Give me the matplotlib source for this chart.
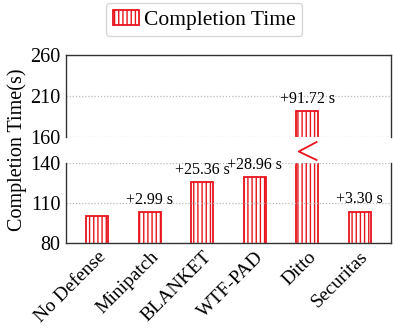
import numpy as np
import matplotlib
matplotlib.use("Agg")
import matplotlib.pyplot as plt
import matplotlib.transforms as mtransforms
from matplotlib.patches import Patch

plt.rcParams['font.family'] = ['Liberation Serif', 'DejaVu Serif']
plt.rcParams['hatch.linewidth'] = 1.0

# data
methods = ["No Defense", "Minipatch", "BLANKET", "WTF-PAD", "Ditto", "Securitas"]
base_time = 100.0
overhead = [0.0, 2.99, 25.36, 28.96, 91.72, 3.30]
labels = ["", "+2.99 s", "+25.36 s", "+28.96 s", "+91.72 s", "+3.30 s"]
times = [base_time + o for o in overhead]
upper_ticks = [160, 210, 260]
lower_ticks = [80, 110, 140]

red = "#e8141c"
spine_col = "#333333"
grid_col = "#bbbbbb"

fig = plt.figure(figsize=(3.93, 3.32), dpi=100)
ax_top = fig.add_axes([0.168, 0.587, 0.827, 0.247])
ax_bot = fig.add_axes([0.168, 0.269, 0.827, 0.241])

x = np.arange(len(methods))
for ax in (ax_top, ax_bot):
    ax.bar(x, times, width=0.42, facecolor="white", edgecolor=red,
           hatch="||||", linewidth=1.3, zorder=2)
    ax.set_xlim(-0.6, len(methods) - 0.4)
    ax.grid(axis="y", linestyle=(0, (1, 1.5)), color=grid_col, linewidth=0.9, zorder=3)
    ax.set_axisbelow(False)
    ax.tick_params(length=0, labelsize=14.5, pad=4, colors="black")
    for s in ax.spines.values():
        s.set_color(spine_col)
        s.set_linewidth(1.0)
        s.set_zorder(4)

ax_top.set_ylim(160, 260)
ax_top.set_yticks(upper_ticks)
ax_top.spines["bottom"].set_visible(False)
ax_top.set_xticks([])

ax_bot.set_ylim(80, 140)
ax_bot.set_yticks(lower_ticks)
ax_bot.spines["top"].set_visible(False)
ax_bot.set_xticks(x)
ax_bot.set_xticklabels(methods, rotation=45, ha="right", rotation_mode="anchor",
                       fontsize=14)

# overhead labels above bars
for i, (t, lab) in enumerate(zip(times, labels)):
    if not lab:
        continue
    ax = ax_top if t > 160 else ax_bot
    ax.annotate(lab, (i, t), xytext=(0, 3), textcoords="offset points",
                ha="center", va="bottom", fontsize=11.5, zorder=5)

# break mark on the Ditto bar, in the gap between axes
trans = mtransforms.blended_transform_factory(ax_bot.transData, fig.transFigure)
di = methods.index("Ditto")
ax_bot.plot([di + 0.18, di - 0.16, di + 0.18],
            [1 - 142 / 332, 1 - 151.5 / 332, 1 - 160 / 332],
            transform=trans, color=red, linewidth=1.3, clip_on=False, zorder=6)

fig.text(17 / 393, 0.548, "Completion Time(s)", rotation=90, ha="center",
         va="center", fontsize=14.5)

handle = Patch(facecolor="white", edgecolor=red, hatch="||||", linewidth=1.3)
fig.legend([handle], ["Completion Time"], loc="upper center",
           bbox_to_anchor=(204 / 393, 1.01), fontsize=15.5, frameon=True,
           fancybox=True, edgecolor="#cccccc", handlelength=1.25,
           handleheight=0.75, handletextpad=0.2, borderpad=0.3,
           borderaxespad=0.3)

fig.savefig("out.png", dpi=100)
